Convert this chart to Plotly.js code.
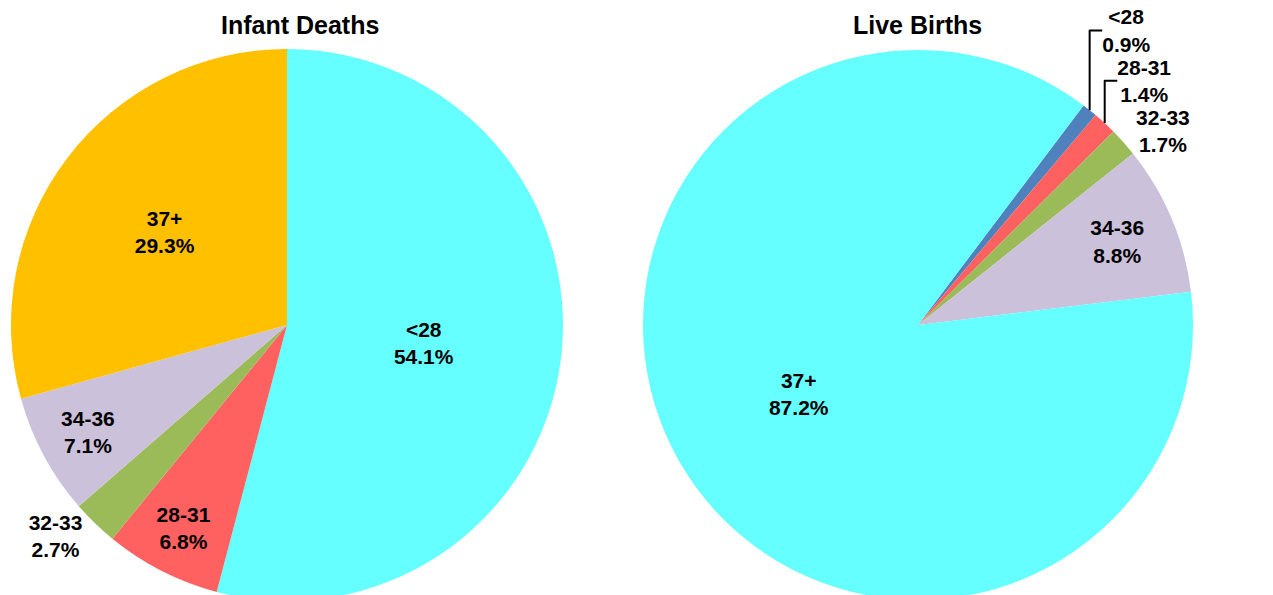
<!DOCTYPE html>
<html>
<head>
<meta charset="utf-8">
<script src="https://cdn.plot.ly/plotly-3.0.1.min.js"></script>
<style>html,body{margin:0;padding:0;overflow:hidden;background:#fff;}#chart{width:1273px;height:610px;}</style>
</head>
<body>
<div id="chart"></div>
<script>
const categories = ['<28', '28-31', '32-33', '34-36', '37+'];
const infantDeaths = [54.1, 6.8, 2.7, 7.1, 29.3];
const liveBirths = [0.9, 1.4, 1.7, 8.8, 87.2];
const titles = ['Infant Deaths', 'Live Births'];

const colorsDeaths = ['#66FFFF', '#FF6161', '#9BBB59', '#CCC1DA', '#FFC000'];
const colorsBirths = ['#4F81BD', '#FF6161', '#9BBB59', '#CCC1DA', '#66FFFF'];

const W = 1273, H = 610;
function dom(cx, cy, r) {
  return {x: [(cx - r) / W, (cx + r) / W], y: [1 - (cy + r) / H, 1 - (cy - r) / H]};
}
const font = {family: 'Liberation Sans, Arial, sans-serif', size: 21, color: '#000'};
const titleFont = {family: 'Liberation Sans, Arial, sans-serif', size: 25, color: '#000'};

const traces = [
  {
    type: 'pie', labels: categories, values: infantDeaths, sort: false, direction: 'clockwise', rotation: 0,
    marker: {colors: colorsDeaths, line: {width: 0}},
    texttemplate: '<b>%{label}<br>%{value:.1f}%</b>', hoverinfo: 'label+value',
    textposition: ['inside', 'inside', 'outside', 'inside', 'inside'],
    insidetextorientation: 'horizontal',
    textfont: font, insidetextfont: font, outsidetextfont: font,
    domain: dom(287, 325, 276), showlegend: false
  },
  {
    type: 'pie', labels: categories, values: liveBirths, sort: false, direction: 'clockwise', rotation: 37,
    marker: {colors: colorsBirths, line: {width: 0}},
    texttemplate: '<b>%{label}<br>%{value:.1f}%</b>', hoverinfo: 'label+value',
    textposition: ['outside', 'outside', 'outside', 'inside', 'inside'],
    insidetextorientation: 'horizontal',
    textfont: font, insidetextfont: font, outsidetextfont: font,
    domain: dom(918, 325, 275), showlegend: false
  }
];

const layout = {
  width: W, height: H,
  margin: {l: 0, r: 0, t: 0, b: 0},
  paper_bgcolor: '#fff',
  showlegend: false,
  annotations: [
    {text: '<b>' + titles[0] + '</b>', x: 300 / W, y: 1 - 25 / H, xref: 'paper', yref: 'paper', showarrow: false,
     xanchor: 'center', yanchor: 'middle', font: titleFont},
    {text: '<b>' + titles[1] + '</b>', x: 917 / W, y: 1 - 25 / H, xref: 'paper', yref: 'paper', showarrow: false,
     xanchor: 'center', yanchor: 'middle', font: titleFont}
  ]
};

Plotly.newPlot('chart', traces, layout, {displayModeBar: false, staticPlot: true});
</script>
</body>
</html>
